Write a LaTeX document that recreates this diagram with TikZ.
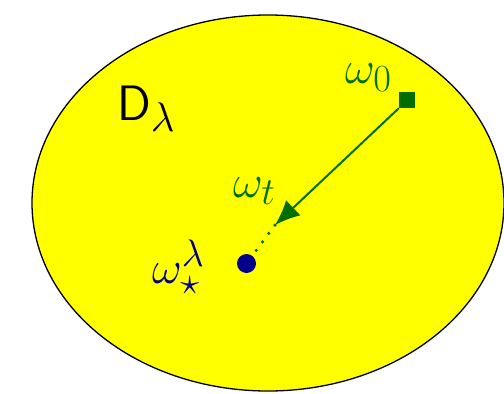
\documentclass[tikz,border=0pt]{standalone}
\usetikzlibrary{arrows.meta}
\definecolor{myyellow}{RGB}{255,255,0}
\definecolor{mygreen}{RGB}{0,110,0}
\definecolor{myblue}{RGB}{0,0,140}
\newcommand{\bigmath}[2]{\scalebox{#1}{\Huge$#2$}}
\begin{document}
\begin{tikzpicture}[x=1pt,y=-1pt,
  lab/.style={inner sep=0pt,anchor=base west},
  dom/.style={fill=myyellow,draw=black,line width=1.3pt}]
\useasboundingbox (0,0) rectangle (504,394);
\draw[dom] (268,203) ellipse [x radius=236, y radius=188];
\node[draw=none,fill=mygreen,minimum size=16pt,inner sep=0pt] (w0) at (407,100) {};
\node[circle,fill=myblue,minimum size=19pt,inner sep=0pt] (star) at (246.5,263.5) {};
\coordinate (wt) at (275,225);
\draw[mygreen,line width=2pt,-{Latex[length=25pt,width=21pt]}] (w0.south west) -- (wt);
\draw[mygreen,line width=3.5pt,line cap=round,dash pattern=on 0pt off 10.5pt] (wt) -- (star);
\node[lab,text=mygreen] (l0) at (345,83) {\bigmath{1.85}{\omega_0}};
\node[lab,text=mygreen] (lt) at (233,197) {\bigmath{1.85}{\omega_t}};
\node[lab,text=myblue] (ls) at (152,283) {\bigmath{1.85}{\omega_\star^\lambda}};
\node[lab,text=black] (ld) at (117,120) {\bigmath{2.0}{\mathsf{D}_\lambda}};
\end{tikzpicture}
\end{document}
